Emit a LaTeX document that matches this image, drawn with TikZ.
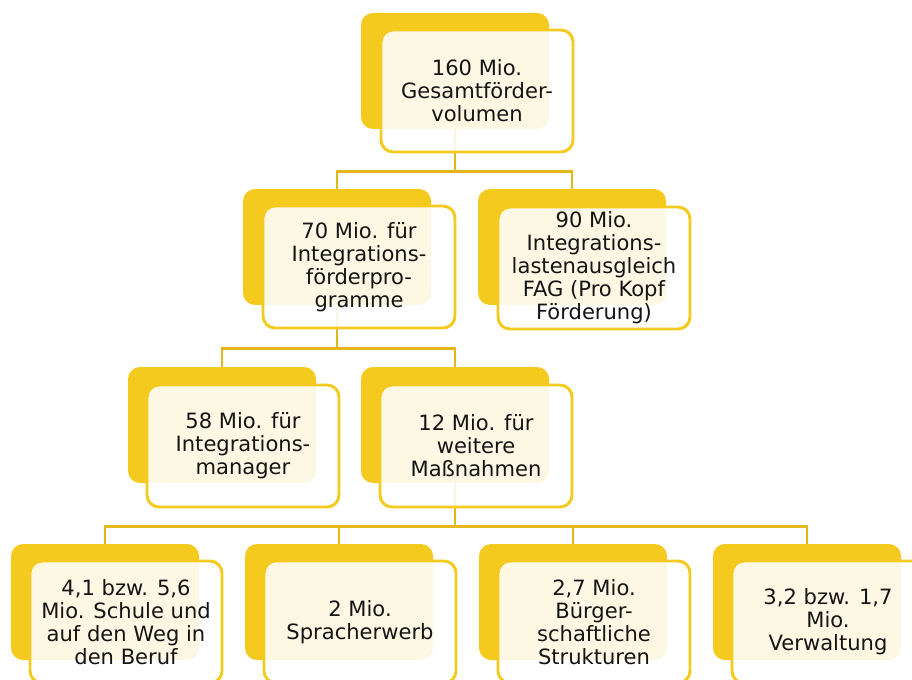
\documentclass[tikz,border=0pt]{standalone}
\usepackage{fontspec}
\setmainfont{DejaVu Sans}
\usetikzlibrary{positioning,calc,backgrounds}
\definecolor{boxyellow}{RGB}{244,202,30}
\definecolor{linegold}{RGB}{228,184,24}
\definecolor{textdark}{RGB}{20,20,20}

\begin{document}
\begin{tikzpicture}[x=0.75pt,y=-0.75pt,
  backbox/.style={fill=boxyellow,rounded corners=9pt,minimum width=141pt,minimum height=87pt,inner sep=0pt},
  frontbox/.style={draw=boxyellow,line width=2.2pt,fill=white,fill opacity=0.88,text opacity=1,
    rounded corners=9pt,minimum width=144pt,minimum height=91.5pt,inner sep=0pt,
    align=center,text=textdark,font=\fontsize{15.8}{17.2}\selectfont},
  link/.style={draw=linegold,line width=2.2pt}]
  \clip (0,0) rectangle (912,680);

  % back boxes
  \node[backbox] (topb) at (455,71) {};
  \node[backbox] (progb) at (337,247) {};
  \node[backbox] (fagb) at (572,247) {};
  \node[backbox] (mgrb) at (222,425) {};
  \node[backbox] (weitb) at (455,425) {};
  \node[backbox] (schulb) at (105,602) {};
  \node[backbox] (sprachb) at (339,602) {};
  \node[backbox] (buergb) at (573,602) {};
  \node[backbox] (verwb) at (807,602) {};

  % front boxes
  \node[frontbox] (topf) at ([shift={(22,20)}]topb) {160 Mio.\\Gesamtförder-\\volumen};
  \node[frontbox] (progf) at ([shift={(22,20)}]progb) {70 Mio. für\\Integrations-\\förderpro-\\gramme};
  \node[frontbox] (fagf) at ([shift={(22,21)}]fagb) {90 Mio.\\Integrations-\\lastenausgleich\\FAG (Pro Kopf\\Förderung)};
  \node[frontbox] (mgrf) at ([shift={(21,21)}]mgrb) {58 Mio. für\\Integrations-\\manager};
  \node[frontbox] (weitf) at ([shift={(21,21)}]weitb) {12 Mio. für\\weitere\\Maßnahmen};
  \node[frontbox] (schulf) at ([shift={(21,20)}]schulb) {4,1 bzw. 5,6\\Mio. Schule und\\auf den Weg in\\den Beruf};
  \node[frontbox] (sprachf) at ([shift={(21,20)}]sprachb) {2 Mio.\\Spracherwerb};
  \node[frontbox] (buergf) at ([shift={(21,20)}]buergb) {2,7 Mio.\\Bürger-\\schaftliche\\Strukturen};
  \node[frontbox] (verwf) at ([shift={(21,20)}]verwb) {3,2 bzw. 1,7\\Mio.\\Verwaltung};

  \coordinate (h1) at ($(topf.south)!0.5!(progb.north)$);
  \coordinate (h2) at ($(progf.south)!0.5!(mgrb.north)$);
  \coordinate (h3) at ($(weitf.south)!0.5!(schulb.north)$);

  \begin{scope}[on background layer]
    \draw[link] (topb.south) -- (topb.south |- h1) -| (progb.north);
    \draw[link] (topb.south |- h1) -| (fagb.north);
    \draw[link] (progb.south) -- (progb.south |- h2) -| (mgrb.north);
    \draw[link] (progb.south |- h2) -| (weitb.north);
    \draw[link] (weitb.south) -- (weitb.south |- h3) -| (schulb.north);
    \draw[link] (weitb.south |- h3) -| (sprachb.north);
    \draw[link] (weitb.south |- h3) -| (buergb.north);
    \draw[link] (weitb.south |- h3) -| (verwb.north);
  \end{scope}
\end{tikzpicture}
\end{document}
